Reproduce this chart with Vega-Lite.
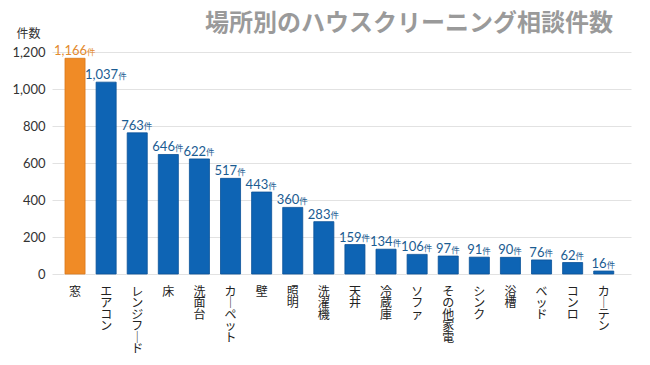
{
  "$schema": "https://vega.github.io/schema/vega-lite/v6.json",
  "width": 579,
  "height": 222,
  "autosize": {"type": "none"},
  "padding": {"left": 52, "top": 52, "right": 19, "bottom": 91},
  "background": "#ffffff",
  "title": {
    "text": "場所別のハウスクリーニング相談件数",
    "font": "Noto Sans CJK JP",
    "fontSize": 24,
    "fontWeight": "bold",
    "color": "#9a9a9a",
    "anchor": "end",
    "frame": "group",
    "dx": -18,
    "offset": -9
  },
  "data": {
    "values": [
      {"place": "窓", "count": 1166},
      {"place": "エアコン", "count": 1037},
      {"place": "レンジフード", "count": 763},
      {"place": "床", "count": 646},
      {"place": "洗面台", "count": 622},
      {"place": "カーペット", "count": 517},
      {"place": "壁", "count": 443},
      {"place": "照明", "count": 360},
      {"place": "洗濯機", "count": 283},
      {"place": "天井", "count": 159},
      {"place": "冷蔵庫", "count": 134},
      {"place": "ソファ", "count": 106},
      {"place": "その他家電", "count": 97},
      {"place": "シンク", "count": 91},
      {"place": "浴槽", "count": 90},
      {"place": "ベッド", "count": 76},
      {"place": "コンロ", "count": 62},
      {"place": "カーテン", "count": 16}
    ]
  },
  "encoding": {
    "x": {
      "field": "place",
      "type": "nominal",
      "sort": null,
      "scale": {"paddingInner": 0.355, "paddingOuter": 0.486, "align": 0.43},
      "axis": {
        "title": null,
        "domain": false,
        "ticks": false,
        "labelAngle": 0,
        "labelFont": "Noto Sans CJK JP",
        "labelFontSize": 12,
        "labelColor": "#222222",
        "labelPadding": 12,
        "labelBaseline": "top",
        "labelLineHeight": 11.5,
        "labelExpr": "split(replace(datum.label, 'ー', '｜'), '')"
      }
    },
    "y": {
      "field": "count",
      "type": "quantitative",
      "scale": {"domain": [0, 1200]},
      "axis": {
        "values": [0, 200, 400, 600, 800, 1000, 1200],
        "format": ",d",
        "domain": false,
        "ticks": false,
        "labelPadding": 7,
        "labelFont": "Lato",
        "labelFontSize": 13,
        "labelColor": "#333333",
        "gridColor": "#e2e2e2",
        "title": "件数",
        "titleFont": "Noto Sans CJK JP",
        "titleFontSize": 12,
        "titleFontWeight": "normal",
        "titleColor": "#333333",
        "titleAngle": 0,
        "titleAlign": "center",
        "titleBaseline": "middle",
        "titleX": -24,
        "titleY": -19
      }
    }
  },
  "layer": [
    {
      "mark": {"type": "bar", "strokeWidth": 0.8},
      "encoding": {
        "color": {
          "condition": {"test": "datum.place === '窓'", "value": "#F08B26"},
          "value": "#0E64B4"
        },
        "stroke": {
          "condition": {"test": "datum.place === '窓'", "value": "#d9781c"},
          "value": "#0a5298"
        }
      }
    },
    {
      "mark": {
        "type": "text",
        "align": "right",
        "baseline": "alphabetic",
        "font": "Lato",
        "fontSize": 13,
        "dy": -3,
        "dx": {"expr": "(length(format(datum.count, ','))*7.4 - (indexof(format(datum.count, ','), ',') >= 0 ? 4 : 0))/2 - 4.5"}
      },
      "encoding": {
        "text": {"field": "count", "type": "quantitative", "format": ","},
        "color": {
          "condition": {"test": "datum.place === '窓'", "value": "#E38A2E"},
          "value": "#1B5C92"
        }
      }
    },
    {
      "mark": {
        "type": "text",
        "align": "left",
        "baseline": "alphabetic",
        "font": "Noto Sans CJK JP",
        "fontSize": 8.5,
        "dy": -3.5,
        "dx": {"expr": "(length(format(datum.count, ','))*7.4 - (indexof(format(datum.count, ','), ',') >= 0 ? 4 : 0))/2 - 4.5"},
        "text": "件"
      },
      "encoding": {
        "color": {
          "condition": {"test": "datum.place === '窓'", "value": "#E38A2E"},
          "value": "#1B5C92"
        }
      }
    }
  ],
  "config": {
    "view": {"stroke": null}
  }
}
